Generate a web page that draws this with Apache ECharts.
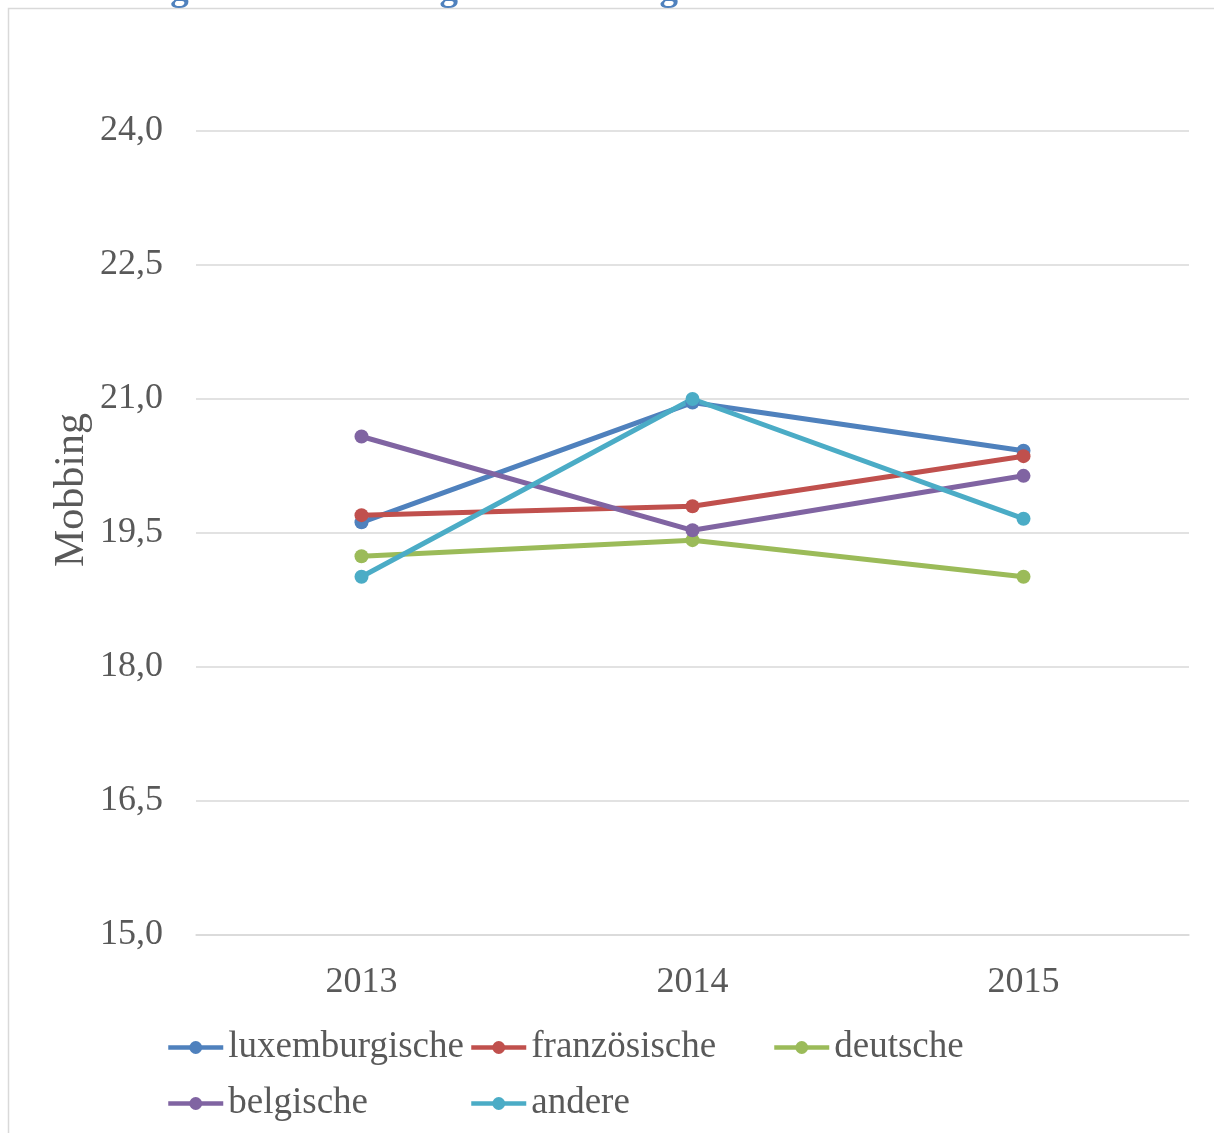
<!DOCTYPE html>
<html>
<head>
<meta charset="utf-8">
<style>html,body{margin:0;padding:0;background:#fff}#c{width:1214px;height:1133px}</style>
<script src="https://cdn.jsdelivr.net/npm/echarts@6/dist/echarts.min.js"></script>
</head>
<body>
<div id="c"></div>
<script>
const years = ['2013', '2014', '2015'];
const luxemburgische = [19.62, 20.96, 20.42];
const franzoesische = [19.70, 19.80, 20.36];
const deutsche = [19.24, 19.42, 19.01];
const belgische = [20.58, 19.53, 20.14];
const andere = [19.01, 21.00, 19.66];
const seriesNames = ['luxemburgische', 'französische', 'deutsche', 'belgische', 'andere'];
const seriesData = [luxemburgische, franzoesische, deutsche, belgische, andere];
const colors = ['#4f81bd', '#c0504d', '#9bbb59', '#8064a2', '#4bacc6'];
const yMin = 15, yMax = 24, yStep = 1.5;

const font = 'Liberation Serif';
const txt = '#595959';
const chart = echarts.init(document.getElementById('c'));
const legendCommon = {
  orient: 'vertical', itemWidth: 55, itemHeight: 16, itemGap: 19, padding: 0,
  lineStyle: { width: 4.5 },
  textStyle: { fontFamily: font, fontSize: 37, color: txt }
};
chart.setOption({
  animation: false,
  color: colors,
  grid: { left: 196, right: 25, top: 131, bottom: 198 },
  graphic: [
    { type: 'rect', shape: { x: 8.5, y: 8.5, width: 1400, height: 1400 }, style: { fill: 'none', stroke: '#d9d9d9', lineWidth: 1.5 }, silent: true },
    { type: 'text', x: 20, y: -9.5, style: { text: 'Abbildung 10: Entwicklung von Mobbing nach Nationalität', font: 'bold 37px "Liberation Serif"', fill: '#4f81bd', verticalAlign: 'middle' }, silent: true },
    { type: 'text', x: 72, y: 490, rotation: Math.PI / 2, style: { text: 'Mobbing', font: '42px "Liberation Serif"', fill: txt, align: 'center', verticalAlign: 'middle' }, silent: true }
  ],
  legend: [
    Object.assign({ left: 166, top: 1029, data: ['luxemburgische', 'belgische'] }, legendCommon),
    Object.assign({ left: 469, top: 1029, data: ['französische', 'andere'] }, legendCommon),
    Object.assign({ left: 772, top: 1029, data: ['deutsche'] }, legendCommon)
  ],
  xAxis: {
    type: 'category', data: years, boundaryGap: true,
    axisLine: { show: true, lineStyle: { color: '#d9d9d9', width: 1.5 } },
    axisTick: { show: false },
    axisLabel: { fontFamily: font, fontSize: 36, color: txt, margin: 30 }
  },
  yAxis: {
    type: 'value', min: yMin, max: yMax, interval: yStep,
    axisLine: { show: false }, axisTick: { show: false },
    splitLine: { lineStyle: { color: '#d9d9d9', width: 1.5 } },
    axisLabel: { fontFamily: font, fontSize: 36, color: txt, margin: 33,
      formatter: v => v.toFixed(1).replace('.', ',') }
  },
  series: seriesNames.map((n, i) => ({
    name: n, type: 'line', data: seriesData[i],
    symbol: 'circle', symbolSize: 14,
    lineStyle: { width: 5, color: colors[i] },
    itemStyle: { color: colors[i] }
  }))
});
</script>
</body>
</html>
